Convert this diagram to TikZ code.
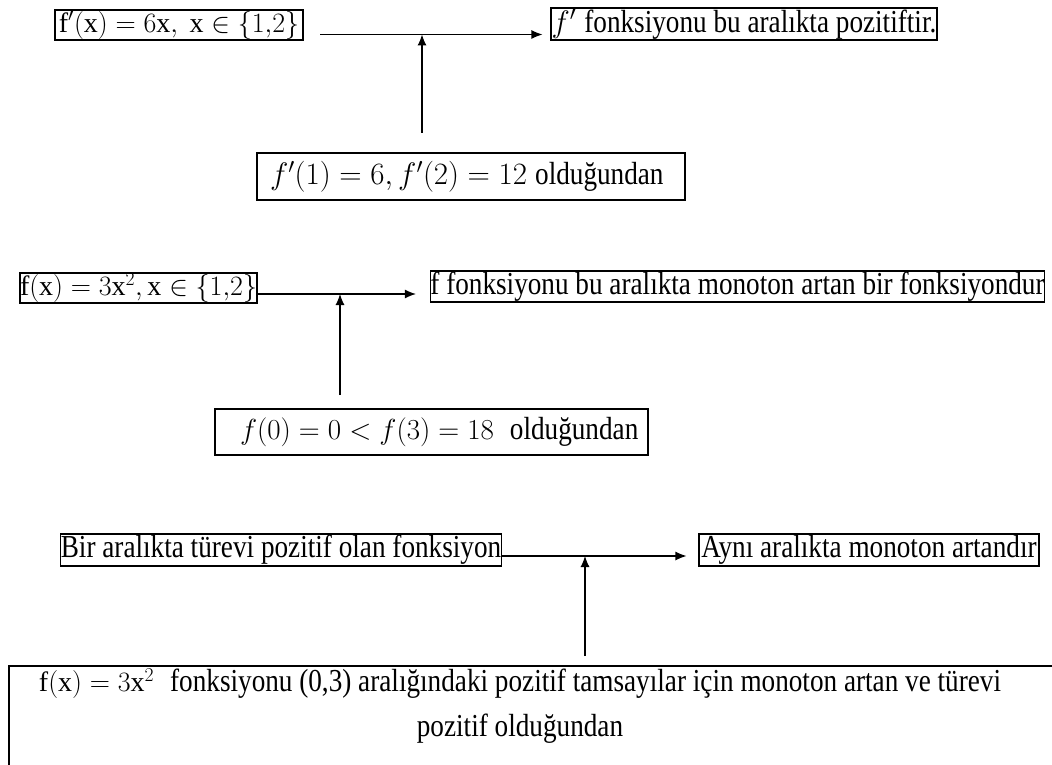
\documentclass[tikz,border=0pt]{standalone}
\usepackage{fix-cm}
\usepackage{fontspec}
\setmainfont{Liberation Serif}
\usepackage{graphicx}
\usetikzlibrary{arrows.meta}

% condensed text, as set in the boxes
\newcommand{\nx}[1]{\scalebox{0.85}[1]{#1}}
% formulas, set a little larger than the words around them
\newcommand{\mth}[2][31]{{\fontsize{#1}{36}\selectfont$#2$}}

\begin{document}
\begin{tikzpicture}[x=1pt,y=-1pt,
  box/.style={draw, line width=1.1pt, inner sep=0pt,
    font=\fontsize{32}{36}\selectfont},
  flow/.style={line width=1.1pt, -{Latex[length=11pt,width=9pt]}},
]
\clip (0,0) rectangle (1052,765);
\fill[white] (0,0) rectangle (1052,765);

% ---- first chain: derivative is positive
\node[box, minimum width=248pt, minimum height=30pt] (a1) at (179,25)
  {\mth[28]{\mathrm{f}'(\mathrm{x}) = 6\mathrm{x},\ \mathrm{x} \in \{1{,}2\}}};
\node[box, minimum width=386pt, minimum height=32pt] (b1) at (744,24)
  {\mth{f'}\ \nx{fonksiyonu bu aralıkta pozitiftir.}};
\node[box, minimum height=47pt, inner xsep=13pt] (c1) at (471,176.5)
  {\makebox[402pt][l]{\mth{f'(1) = 6, f'(2) = 12}\ \nx{olduğundan}}};
\coordinate (h1) at (320,34.5);
\coordinate (v1) at (422,133);
\draw[flow, shorten >=8pt] (h1) -- (h1 -| b1.west);
\draw[flow] (v1) -- (v1 |- h1);

% ---- second chain: function is increasing
\node[box, minimum width=235pt, minimum height=30pt] (a2) at (138.5,288)
  {\mth[28]{\mathrm{f}(\mathrm{x}) = 3\mathrm{x}^2, \mathrm{x} \in \{1{,}2\}}};
\node[box, minimum width=605pt, minimum height=31pt] (b2) at (737.5,286.5)
  {\nx{f fonksiyonu bu aralıkta monoton artan bir fonksiyondur}};
\node[box, minimum height=46pt, inner xsep=25pt] (c2) at (431.5,432)
  {\makebox[383pt][l]{\mth[29]{f(0) = 0 < f(3) = 18}\ \ \nx{olduğundan}}};
\coordinate (h2) at (a2.east |- 0,294);
\coordinate (v2) at (340,395);
\draw[flow, shorten >=14pt] (h2) -- (h2 -| b2.west);
\draw[flow] (v2) -- (v2 |- h2);

% ---- third chain: the general rule
\node[box, minimum width=438pt, minimum height=32pt] (a3) at (281,550)
  {\nx{Bir aralıkta türevi pozitif olan fonksiyon}};
\node[box, minimum width=340pt, minimum height=32pt] (b3) at (869,550)
  {\nx{Aynı aralıkta monoton artandır}};
\node[inner sep=0pt, align=center, font=\fontsize{32}{45}\selectfont] (c3) at (520,706)
  {\mth[28]{\mathrm{f}(\mathrm{x}) = 3\mathrm{x}^2}\ \ \nx{fonksiyonu (0,3) aralığındaki pozitif tamsayılar için monoton artan ve türevi}\\
   \nx{pozitif olduğundan}};
\draw[line width=1.1pt] (9,800) -- (9,666) -- (1100,666);
\coordinate (h3) at (a3.east |- 0,556);
\coordinate (v3) at (585,656);
\draw[flow, shorten >=12pt] (h3) -- (h3 -| b3.west);
\draw[flow] (v3) -- (v3 |- h3);
\end{tikzpicture}
\end{document}
